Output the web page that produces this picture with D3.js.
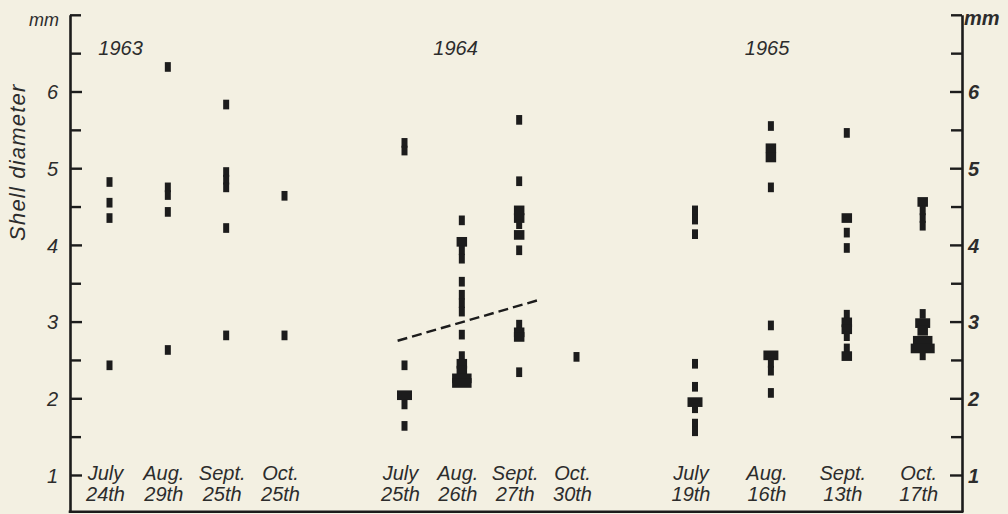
<!DOCTYPE html>
<html><head><meta charset="utf-8">
<script src="https://cdn.jsdelivr.net/npm/d3@7"></script>
<style>
html,body{margin:0;padding:0;background:#f3f0e2;}
svg{display:block;}
text{font-family:"Liberation Sans",Arial,sans-serif;font-style:italic;fill:#2c2c2c;}
</style></head><body>
<svg id="chart" width="1008" height="514"></svg>
<script>
// ---------------- data ----------------
const years = ["1963", "1964", "1965"];
const dates1963 = ["July 24th", "Aug. 29th", "Sept. 25th", "Oct. 25th"];
const dates1964 = ["July 25th", "Aug. 26th", "Sept. 27th", "Oct. 30th"];
const dates1965 = ["July 19th", "Aug. 16th", "Sept. 13th", "Oct. 17th"];

// [sampling date, shell diameter (mm), number of snails]
const shells1963 = [
  ["July 24th", 4.82, 1], ["July 24th", 4.55, 1], ["July 24th", 4.35, 1], ["July 24th", 2.43, 1],
  ["Aug. 29th", 6.32, 1], ["Aug. 29th", 4.75, 1], ["Aug. 29th", 4.65, 1], ["Aug. 29th", 4.43, 1], ["Aug. 29th", 2.63, 1],
  ["Sept. 25th", 5.83, 1], ["Sept. 25th", 4.95, 1], ["Sept. 25th", 4.85, 1], ["Sept. 25th", 4.75, 1], ["Sept. 25th", 4.22, 1], ["Sept. 25th", 2.82, 1],
  ["Oct. 25th", 4.64, 1], ["Oct. 25th", 2.82, 1]
];
const shells1964 = [
  ["July 25th", 5.33, 1], ["July 25th", 5.23, 1], ["July 25th", 2.43, 1], ["July 25th", 2.04, 3], ["July 25th", 1.92, 1], ["July 25th", 1.64, 1],
  ["Aug. 26th", 4.32, 1], ["Aug. 26th", 4.04, 2], ["Aug. 26th", 3.93, 1], ["Aug. 26th", 3.82, 1], ["Aug. 26th", 3.52, 1],
  ["Aug. 26th", 3.35, 1], ["Aug. 26th", 3.24, 1], ["Aug. 26th", 3.13, 1], ["Aug. 26th", 2.83, 1],
  ["Aug. 26th", 2.55, 1], ["Aug. 26th", 2.45, 2], ["Aug. 26th", 2.36, 2], ["Aug. 26th", 2.26, 4], ["Aug. 26th", 2.20, 4],
  ["Sept. 27th", 5.63, 1], ["Sept. 27th", 4.83, 1], ["Sept. 27th", 4.45, 2], ["Sept. 27th", 4.35, 2], ["Sept. 27th", 4.27, 1],
  ["Sept. 27th", 4.13, 2], ["Sept. 27th", 3.93, 1], ["Sept. 27th", 2.96, 1], ["Sept. 27th", 2.86, 2], ["Sept. 27th", 2.80, 2], ["Sept. 27th", 2.34, 1],
  ["Oct. 30th", 2.54, 1]
];
const shells1965 = [
  ["July 19th", 4.45, 1], ["July 19th", 4.33, 1], ["July 19th", 4.14, 1], ["July 19th", 2.45, 1], ["July 19th", 2.15, 1],
  ["July 19th", 1.95, 3], ["July 19th", 1.87, 1], ["July 19th", 1.67, 1], ["July 19th", 1.57, 1],
  ["Aug. 16th", 5.55, 1], ["Aug. 16th", 5.26, 2], ["Aug. 16th", 5.14, 2], ["Aug. 16th", 4.75, 1], ["Aug. 16th", 2.95, 1],
  ["Aug. 16th", 2.56, 3], ["Aug. 16th", 2.46, 1], ["Aug. 16th", 2.36, 1], ["Aug. 16th", 2.07, 1],
  ["Sept. 13th", 5.46, 1], ["Sept. 13th", 4.35, 2], ["Sept. 13th", 4.16, 1], ["Sept. 13th", 3.96, 1],
  ["Sept. 13th", 3.09, 1], ["Sept. 13th", 2.99, 2], ["Sept. 13th", 2.90, 2], ["Sept. 13th", 2.81, 1], ["Sept. 13th", 2.65, 1], ["Sept. 13th", 2.55, 2],
  ["Oct. 17th", 4.56, 2], ["Oct. 17th", 4.45, 1], ["Oct. 17th", 4.35, 1], ["Oct. 17th", 4.25, 1],
  ["Oct. 17th", 3.10, 1], ["Oct. 17th", 2.98, 3], ["Oct. 17th", 2.88, 2], ["Oct. 17th", 2.75, 4], ["Oct. 17th", 2.65, 5], ["Oct. 17th", 2.56, 1]
];
// dashed separation line in 1964: [sampling index position, diameter mm]
const trend1964 = [[-0.12, 2.75], [2.38, 3.29]];

const yTicks = [1, 2, 3, 4, 5, 6];
const yHalfTicks = [1.5, 2.5, 3.5, 4.5, 5.5, 6.5, 7];
const yLabel = "Shell diameter";
const unitLabel = "mm";

// ---------------- layout ----------------
const svg = d3.select("#chart");
const ink = "#1c1c1c";
const xLeft = 70, xRight = 962;
const y = d3.scaleLinear().domain([0.52, 7]).range([511.8, 14.8]);

const groups = [
  {year: years[0], dates: dates1963, shells: shells1963, range: [109.5, 284.5], labelPos: 0.19},
  {year: years[1], dates: dates1964, shells: shells1964, range: [404.5, 576.5], labelPos: 0.89},
  {year: years[2], dates: dates1965, shells: shells1965, range: [695, 922.7], labelPos: 0.95}
];
groups.forEach(g => { g.x = d3.scaleLinear().domain([0, g.dates.length - 1]).range(g.range); });

const w = d3.scaleLinear().domain([1, 4]).range([6, 19.5]);

// axes
function styleAxis(sel) {
  sel.selectAll("path,line").attr("stroke", ink).attr("stroke-width", 2.4);
  sel.select(".domain").attr("stroke-width", 2.6);
  sel.selectAll("text").attr("font-family", "Liberation Sans, Arial, sans-serif")
    .attr("font-style", "italic").attr("font-size", 20).attr("fill", "#2c2c2c");
}
const leftAxis = svg.append("g").attr("transform", `translate(${xLeft},0)`)
  .call(d3.axisLeft(y).tickValues(yTicks).tickFormat(d3.format("d")).tickSizeInner(-12).tickSizeOuter(0).tickPadding(12));
styleAxis(leftAxis);
leftAxis.selectAll("text").attr("dy", "0.36em");
const leftMinor = svg.append("g").attr("transform", `translate(${xLeft},0)`)
  .call(d3.axisLeft(y).tickValues(yHalfTicks).tickFormat("").tickSizeInner(-11).tickSizeOuter(0));
styleAxis(leftMinor); leftMinor.select(".domain").remove();

const rightAxis = svg.append("g").attr("transform", `translate(${xRight},0)`)
  .call(d3.axisRight(y).tickValues(yTicks).tickFormat(d3.format("d")).tickSizeInner(-12).tickSizeOuter(0).tickPadding(6));
styleAxis(rightAxis);
rightAxis.selectAll("text").attr("font-weight", "bold").attr("dy", "0.36em");
const rightMinor = svg.append("g").attr("transform", `translate(${xRight},0)`)
  .call(d3.axisRight(y).tickValues(yHalfTicks).tickFormat("").tickSizeInner(-11).tickSizeOuter(0));
styleAxis(rightMinor); rightMinor.select(".domain").remove();

// bottom line
svg.append("line").attr("x1", xLeft).attr("x2", xRight)
  .attr("y1", y(y.domain()[0])).attr("y2", y(y.domain()[0]))
  .attr("stroke", ink).attr("stroke-width", 2.6).attr("stroke-linecap", "square");

// unit labels
svg.append("text").attr("x", 29).attr("y", 26).attr("font-size", 18).text(unitLabel);
svg.append("text").attr("x", 964).attr("y", 25).attr("font-size", 20).attr("font-weight", "bold").text(unitLabel);

// y title
svg.append("text").attr("transform", `translate(25,${y(5)-6}) rotate(-90)`)
  .attr("text-anchor", "middle").attr("font-size", 22).attr("letter-spacing", 1.2).text(yLabel);

// groups
groups.forEach(g => {
  const gg = svg.append("g");
  gg.append("text").attr("x", g.x(g.labelPos)).attr("y", 55).attr("text-anchor", "middle")
    .attr("font-size", 20).text(g.year);
  const lab = gg.selectAll("text.date").data(g.dates).join("text").attr("class", "date")
    .attr("text-anchor", "middle").attr("font-size", 20)
    .attr("transform", (d, i) => `translate(${g.x(i) - 4},0)`);
  lab.append("tspan").attr("x", 0).attr("y", 480).text(d => d.split(" ")[0]);
  lab.append("tspan").attr("x", 0).attr("y", 501).text(d => d.split(" ")[1]);

  gg.selectAll("rect").data(g.shells).join("rect")
    .attr("x", d => g.x(g.dates.indexOf(d[0])) - w(d[2]) / 2)
    .attr("width", d => w(d[2]))
    .attr("y", d => y(d[1] + 0.05) - 1)
    .attr("height", d => y(d[1] - 0.05) - y(d[1] + 0.05) + 2)
    .attr("fill", ink);
});

// dashed line (1964)
const g64 = groups[1];
svg.append("path")
  .attr("d", d3.line().x(d => g64.x(d[0])).y(d => y(d[1]))(trend1964))
  .attr("fill", "none").attr("stroke", ink).attr("stroke-width", 2.4)
  .attr("stroke-dasharray", "10,5");
</script>
</body></html>
